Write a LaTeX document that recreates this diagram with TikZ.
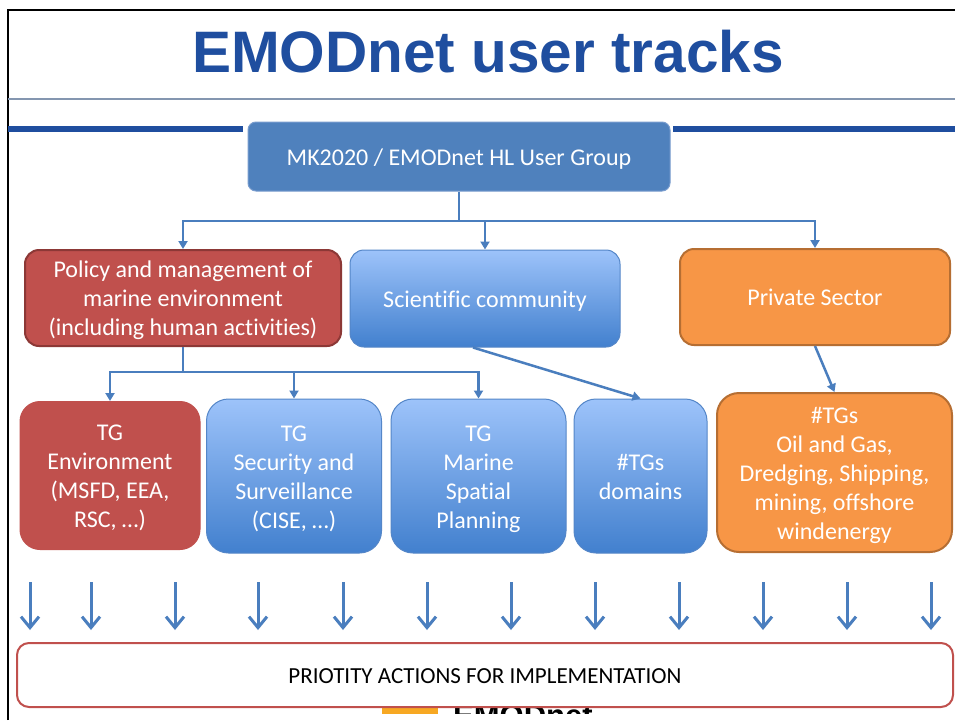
\documentclass[tikz,border=0pt]{standalone}
\usepackage{fontspec}
\setmainfont{Carlito}[Ligatures=NoCommon]
\newfontfamily\titlefont{Liberation Sans}
\usetikzlibrary{arrows.meta,calc}
\definecolor{titleblue}{RGB}{31,78,159}
\definecolor{rulegray}{RGB}{132,150,176}
\definecolor{hdrblue}{RGB}{79,129,189}
\definecolor{hdrborder}{RGB}{120,156,206}
\definecolor{polred}{RGB}{192,80,77}
\definecolor{polborder}{RGB}{140,56,54}
\definecolor{orfill}{RGB}{247,150,70}
\definecolor{orborder}{RGB}{182,110,50}
\definecolor{bltop}{RGB}{157,195,250}
\definecolor{blbot}{RGB}{66,128,206}
\definecolor{blborder}{RGB}{84,134,200}
\definecolor{conn}{RGB}{74,126,190}
\definecolor{logoorange}{RGB}{247,168,35}
\newcommand{\bxt}[1]{\raisebox{-3pt}[\height][\depth]{\begin{tabular}{@{}c@{}}#1\end{tabular}}}
\begin{document}
\begin{tikzpicture}[x=1pt,y=-1pt,
  box/.style={rectangle, inner sep=0pt, text=white, font=\fontsize{24}{29}\selectfont},
  redbox/.style={box, fill=polred, draw=polborder, line width=2pt},
  envbox/.style={box, fill=polred, draw=polred, line width=1pt},
  orbox/.style={box, fill=orfill, draw=orborder, line width=2pt},
  bluebox/.style={box, top color=bltop, bottom color=blbot, draw=blborder, line width=1pt},
  hdrbox/.style={box, fill=hdrblue, draw=hdrborder, line width=1pt, rounded corners=8pt},
  actbox/.style={rectangle, inner sep=0pt, fill=white, draw=polred, line width=2pt, rounded corners=12pt, font=\fontsize{23}{28}\selectfont},
  link/.style={draw=conn, line width=2.5pt, -{Triangle[length=8pt,width=9pt]}},
  plain/.style={draw=conn, line width=2.5pt},
  downarrow/.style={draw=conn, line width=3pt, -{Straight Barb[length=11pt,width=18pt]}}
]
\useasboundingbox (0,0) rectangle (955,720);
\fill[white] (0,0) rectangle (955,720);

% frame and rules
\draw[black, line width=2.5pt] (8,720) -- (8,10) -- (955,10);
\draw[rulegray, line width=1.2pt] (8,99) -- (955,99);
\draw[titleblue, line width=6pt] (8,128.5) -- (243,128.5);
\draw[titleblue, line width=6pt] (673,128.5) -- (955,128.5);

% title
\node[font=\titlefont\bfseries\fontsize{58.5}{58.5}\selectfont, text=titleblue, anchor=base, inner sep=0pt] (title) at (488,72) {EMODnet user tracks};

% logo fragment
\begin{scope}
\clip (350,707) rectangle (620,713);
\fill[logoorange] (382,700) rectangle (438,720);
\node[anchor=base west, inner sep=0pt, font=\titlefont\bfseries\fontsize{31}{31}\selectfont] (logo) at (453,726) {EMODnet};
\end{scope}

% header
\node[hdrbox, minimum width=422pt, minimum height=69pt] (top) at (459,156.5) {\bxt{MK2020 / EMODnet HL User Group}};

% level 2
\node[redbox, rounded corners=14pt, minimum width=316pt, minimum height=96pt] (pol) at (183,298) {\bxt{Policy and management of\\marine environment\\(including human activities)}};
\node[bluebox, rounded corners=14pt, minimum width=270pt, minimum height=97pt] (sci) at (485,298.5) {\bxt{Scientific community}};
\node[orbox, rounded corners=14pt, minimum width=270pt, minimum height=96pt] (priv) at (815,297) {\bxt{Private Sector}};

% level 3
\node[envbox, rounded corners=20pt, minimum width=180pt, minimum height=148pt] (env) at (110,475.5) {\bxt{TG\\Environment\\(MSFD, EEA,\\RSC, …)}};
\node[bluebox, rounded corners=22pt, minimum width=175pt, minimum height=154pt] (sec) at (294,476) {\bxt{TG\\Security and\\Surveillance\\(CISE, …)}};
\node[bluebox, rounded corners=22pt, minimum width=175pt, minimum height=154pt] (msp) at (478.5,476) {\bxt{TG\\Marine\\Spatial\\Planning}};
\node[bluebox, rounded corners=22pt, minimum width=133pt, minimum height=154pt] (dom) at (640.5,476) {\bxt{\#TGs\\domains}};
\node[orbox, rounded corners=22pt, minimum width=235pt, minimum height=159pt] (oil) at (834.5,472.5) {\bxt{\#TGs\\Oil and Gas,\\Dredging, Shipping,\\mining, offshore\\windenergy}};

% bottom
\node[actbox, minimum width=936pt, minimum height=64pt] (act) at (485,675) {\bxt{PRIOTITY ACTIONS FOR IMPLEMENTATION}};

% connectors level 1 -> 2
\coordinate (j1) at (459,221);
\draw[plain] (top.south) -- (j1);
\draw[link] (j1) -| (pol.north);
\draw[link] (j1) -| (sci.north);
\draw[link] (j1) -| (priv.north);

% connectors level 2 -> 3
\coordinate (j2) at (183,372);
\draw[plain] (pol.south) -- (j2);
\draw[link] (j2) -| (env.north);
\draw[link] (j2) -| (sec.north);
\draw[link] (j2) -| (msp.north);
\draw[link] ($(sci.south)+(-12,0)$) -- (dom.north);
\draw[link] (priv.south) -- (oil.north);

% arrows to bottom
\foreach \x [count=\i] in {30,91,175,258,343,427,511,595,679,763,847,931} {
  \coordinate (u\i) at (\x,582);
  \coordinate (d\i) at (\x,630);
  \draw[downarrow] (u\i) -- (d\i);
}
\end{tikzpicture}
\end{document}
